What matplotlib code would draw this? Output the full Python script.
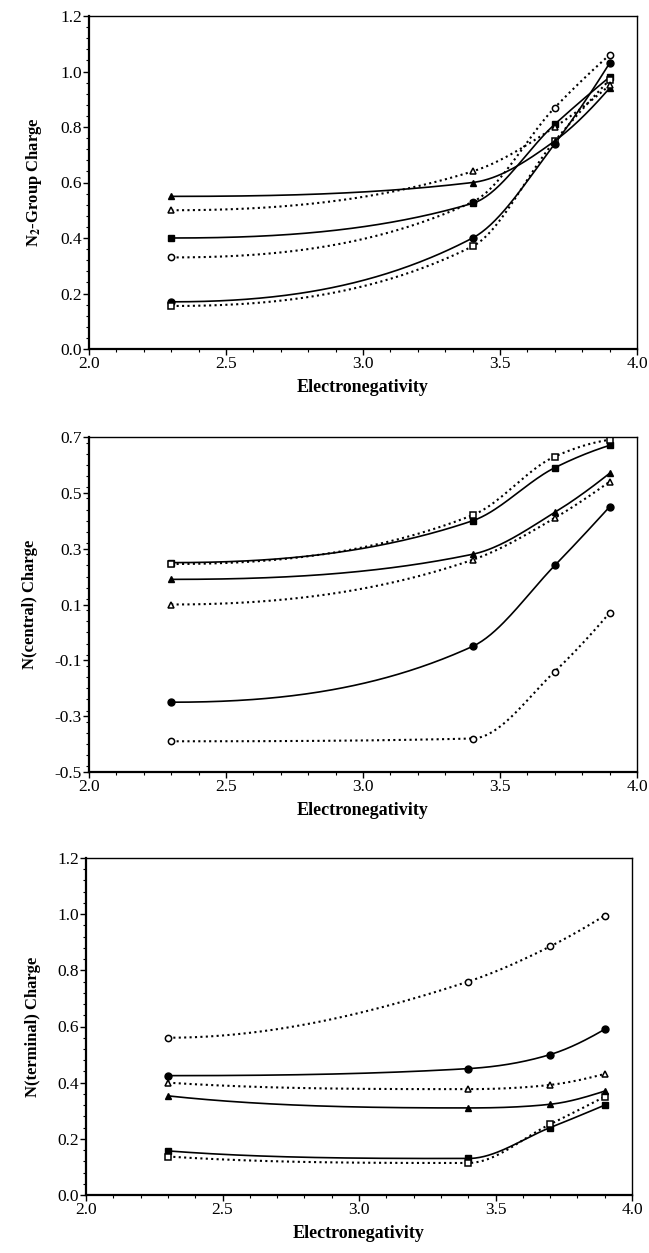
import numpy as np
import matplotlib
matplotlib.use("Agg")
import matplotlib.pyplot as plt
from matplotlib.ticker import MultipleLocator, FormatStrFormatter

plt.rcParams['font.family'] = ['Liberation Serif', 'DejaVu Serif']
plt.rcParams['mathtext.fontset'] = 'stix'
plt.rcParams['axes.unicode_minus'] = False

# Electronegativity of the substituent
x = [2.3, 3.4, 3.7, 3.9]

# N2-group charge
n2_filled_circle = [0.17, 0.40, 0.74, 1.03]
n2_open_circle = [0.33, 0.53, 0.87, 1.06]
n2_filled_square = [0.40, 0.525, 0.81, 0.98]
n2_open_square = [0.155, 0.37, 0.75, 0.97]
n2_filled_triangle = [0.55, 0.60, 0.75, 0.94]
n2_open_triangle = [0.50, 0.64, 0.80, 0.95]

# N(central) charge
nc_filled_circle = [-0.25, -0.05, 0.24, 0.45]
nc_open_circle = [-0.39, -0.38, -0.14, 0.07]
nc_filled_square = [0.25, 0.40, 0.59, 0.67]
nc_open_square = [0.245, 0.42, 0.63, 0.69]
nc_filled_triangle = [0.19, 0.28, 0.43, 0.57]
nc_open_triangle = [0.10, 0.26, 0.41, 0.54]

# N(terminal) charge
nt_filled_circle = [0.425, 0.45, 0.50, 0.59]
nt_open_circle = [0.56, 0.76, 0.885, 0.995]
nt_filled_square = [0.157, 0.13, 0.24, 0.32]
nt_open_square = [0.137, 0.114, 0.252, 0.35]
nt_filled_triangle = [0.353, 0.31, 0.323, 0.37]
nt_open_triangle = [0.40, 0.377, 0.392, 0.431]


def smooth(xs, ys, n=200):
    # monotone cubic hermite through the points, only for drawing the curve
    xs = np.asarray(xs, float)
    ys = np.asarray(ys, float)
    h = np.diff(xs)
    d = np.diff(ys) / h
    k = len(xs)
    m = np.zeros(k)
    for i in range(1, k - 1):
        if d[i - 1] * d[i] > 0:
            w1 = 2 * h[i] + h[i - 1]
            w2 = h[i] + 2 * h[i - 1]
            harm = (w1 + w2) / (w1 / d[i - 1] + w2 / d[i])
            bessel = (h[i] * d[i - 1] + h[i - 1] * d[i]) / (h[i - 1] + h[i])
            lim = 3 * min(abs(d[i - 1]), abs(d[i])) * np.sign(d[i])
            bessel = min(bessel, lim, key=abs)
            m[i] = 0.5 * (harm + bessel)

    def end(h0, h1, d0, d1):
        s = ((2 * h0 + h1) * d0 - h0 * d1) / (h0 + h1)
        if np.sign(s) != np.sign(d0):
            s = 0.0
        elif np.sign(d0) != np.sign(d1) and abs(s) > abs(3 * d0):
            s = 3 * d0
        return s

    m[0] = end(h[0], h[1], d[0], d[1])
    m[-1] = end(h[-1], h[-2], d[-1], d[-2])
    xx = np.linspace(xs[0], xs[-1], n)
    idx = np.clip(np.searchsorted(xs, xx) - 1, 0, k - 2)
    hh = h[idx]
    t = (xx - xs[idx]) / hh
    h00 = 2 * t ** 3 - 3 * t ** 2 + 1
    h10 = t ** 3 - 2 * t ** 2 + t
    h01 = -2 * t ** 3 + 3 * t ** 2
    h11 = t ** 3 - t ** 2
    yy = h00 * ys[idx] + h10 * hh * m[idx] + h01 * ys[idx + 1] + h11 * hh * m[idx + 1]
    return xx, yy


def draw(ax, ys, marker, filled):
    xx, yy = smooth(x, ys)
    if filled:
        ax.plot(xx, yy, color='black', lw=1.2, solid_capstyle='round')
        ax.plot(x, ys, linestyle='none', marker=marker, ms=5,
                mfc='black', mec='black')
    else:
        ax.plot(xx, yy, color='black', lw=1.5, linestyle=(0, (1.0, 1.6)))
        ax.plot(x, ys, linestyle='none', marker=marker, ms=4.5,
                mfc='white', mec='black', mew=1.1)


def style(ax, ylo, yhi, ystep, yminor, ylabel):
    ax.set_xlim(2.0, 4.0)
    ax.set_ylim(ylo, yhi)
    ax.xaxis.set_major_locator(MultipleLocator(0.5))
    ax.xaxis.set_minor_locator(MultipleLocator(0.1))
    ax.yaxis.set_major_locator(MultipleLocator(ystep))
    ax.yaxis.set_minor_locator(MultipleLocator(yminor))
    ax.xaxis.set_major_formatter(FormatStrFormatter('%.1f'))
    ax.yaxis.set_major_formatter(FormatStrFormatter('%.1f'))
    ax.tick_params(which='major', direction='out', length=4, width=1.0,
                   labelsize=12.5, pad=1)
    ax.tick_params(which='minor', direction='out', length=2, width=0.8)
    for s in ['left', 'bottom']:
        ax.spines[s].set_linewidth(1.6)
    for s in ['top', 'right']:
        ax.spines[s].set_linewidth(1.0)
    ax.set_xlabel('Electronegativity', fontsize=13, fontweight='bold',
                  labelpad=5)
    ax.set_ylabel(ylabel, fontsize=12, fontweight='bold', labelpad=12)


fig = plt.figure(figsize=(6.49, 12.53), dpi=100)
W, H = 649, 1253
ax1 = fig.add_axes([89 / W, 1 - 349 / H, 548 / W, 333 / H])
ax2 = fig.add_axes([89 / W, 1 - 772 / H, 548 / W, 335 / H])
ax3 = fig.add_axes([86 / W, 1 - 1195 / H, 546 / W, 337 / H])

panels = [
    (ax1, [n2_filled_circle, n2_open_circle, n2_filled_square,
           n2_open_square, n2_filled_triangle, n2_open_triangle]),
    (ax2, [nc_filled_circle, nc_open_circle, nc_filled_square,
           nc_open_square, nc_filled_triangle, nc_open_triangle]),
    (ax3, [nt_filled_circle, nt_open_circle, nt_filled_square,
           nt_open_square, nt_filled_triangle, nt_open_triangle]),
]
kinds = [('o', True), ('o', False), ('s', True), ('s', False),
         ('^', True), ('^', False)]

for ax, series in panels:
    for ys, (mk, filled) in zip(series, kinds):
        draw(ax, ys, mk, filled)

style(ax1, 0.0, 1.2, 0.2, 0.04, 'N$_\\mathbf{2}$-Group Charge')
style(ax2, -0.5, 0.7, 0.2, 0.04, 'N(central) Charge')
style(ax3, 0.0, 1.2, 0.2, 0.04, 'N(terminal) Charge')
ax2.set_yticks([-0.5, -0.3, -0.1, 0.1, 0.3, 0.5, 0.7])

fig.savefig('out.png', dpi=100)
